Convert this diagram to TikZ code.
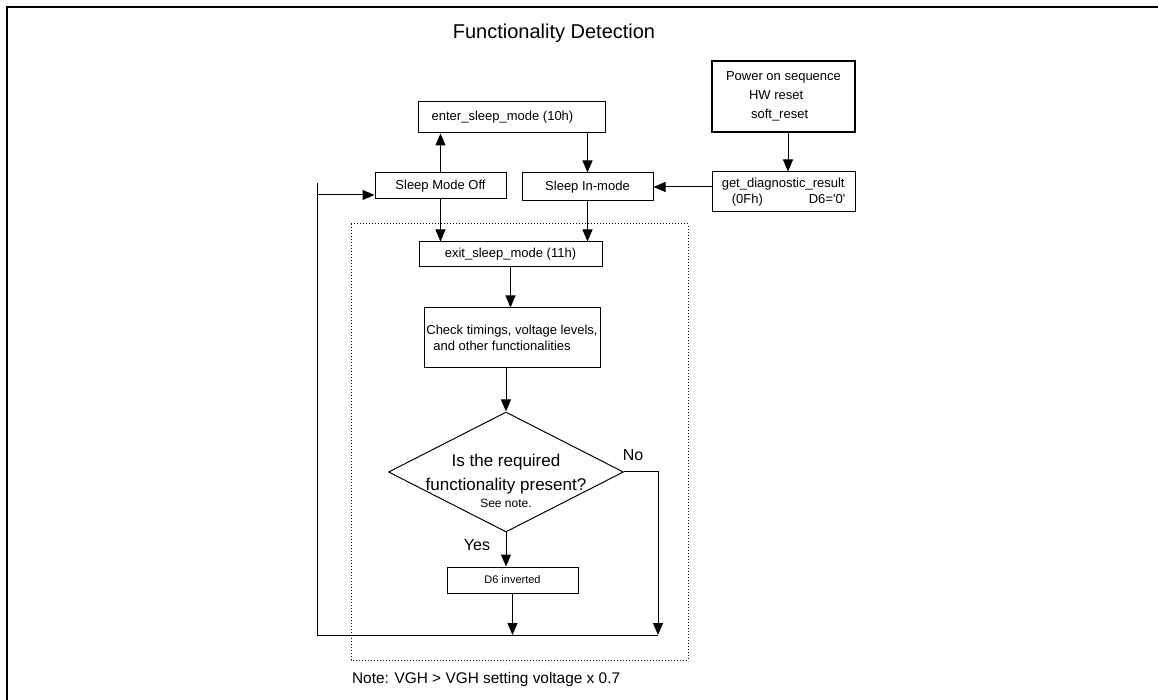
\documentclass[tikz,border=0pt]{standalone}
\usepackage{fontspec}
\setmainfont{Liberation Sans}
\usetikzlibrary{arrows.meta,shapes.geometric}

\begin{document}
\begin{tikzpicture}[x=0.5pt, y=-0.5pt,
	box/.style={draw, line width=0.5pt, inner sep=1pt, font=\fontsize{6.5}{8}\selectfont},
	flow/.style={-{Triangle[width=5pt,length=6pt]}, line width=0.5pt},
	lbl/.style={font=\fontsize{8}{9}\selectfont}]
	\useasboundingbox (0,0) rectangle (1158,700);
	\draw[line width=1.4pt] (7,705) -- (7,7) -- (1165,7);
	\node[font=\fontsize{10}{12}\selectfont] (title) at (554,33) {Functionality Detection};
	\node[box, line width=1.3pt, minimum width=71.5pt, minimum height=35.5pt, align=left, font=\fontsize{6.5}{9.5}\selectfont] (power) at (783.5,96.5) {Power on sequence\\\hspace*{11.5pt}HW reset\\\hspace*{12.5pt}soft\_reset};
	\node[box, minimum width=71.5pt, minimum height=20pt, align=left] (diag) at (783.5,192) {get\_diagnostic\_result\\\hspace*{5pt}(0Fh)\hspace{23pt}D6=\textquotesingle0\textquotesingle};
	\node[box, minimum width=93.5pt, minimum height=15.5pt] (enter) at (511.5,117.5) {enter\_sleep\_mode (10h)\hspace*{9pt}};
	\node[box, minimum width=65.5pt, minimum height=13pt] (smoff) at (440.5,186) {Sleep Mode Off};
	\node[box, minimum width=65.5pt, minimum height=14pt] (smin) at (587.5,187) {Sleep In-mode};
	\node[box, minimum width=91.5pt, minimum height=12.5pt] (exit) at (510.5,254.5) {exit\_sleep\_mode (11h)};
	\node[box, minimum width=88pt, minimum height=30pt, align=left] (check) at (512,338) {Check timings, voltage levels,\\\hspace*{3.5pt}and other functionalities};
	\node[draw, diamond, minimum width=117.5pt, minimum height=60pt, inner sep=0pt, line width=0.5pt] (dec) at (506,472) {};
	\node[align=center, font=\fontsize{8.5}{12}\selectfont] (dectext) at (506,481) {Is the required\\functionality present?\\[-3.5pt]{\fontsize{6}{7}\selectfont See note.}};
	\node[box, minimum width=65.5pt, minimum height=13pt, font=\fontsize{5.5}{7}\selectfont] (d6) at (512.5,580) {D6 inverted};
	\node[lbl] (yes) at (477,545) {Yes};
	\node[lbl] (no) at (633,455) {No};
	\node[anchor=base west, font=\fontsize{7.7}{9}\selectfont] (note) at (345,683) {Note: VGH > VGH setting voltage x 0.7};
	\coordinate (loopR) at (658,635);
	\coordinate (loopL) at (317,635);
	\coordinate (loopT) at (317,183);
	\coordinate (loopin) at (317,195);
	\draw[densely dotted, line width=0.5pt] (351,224) rectangle (688,660);
	\draw[flow] ([xshift=2.25pt]power.south) -- ([xshift=2.25pt]diag.north);
	\draw[flow] (diag.west |- smin.east) -- (smin.east);
	\draw[flow] (smoff.north) -- (smoff.north |- enter.south);
	\draw[flow] (enter.south -| smin.north) -- (smin.north);
	\draw[flow] (smoff.south) -- (smoff.south |- exit.north);
	\draw[flow] (smin.south) -- (smin.south |- exit.north);
	\draw[flow] (exit.south) -- (exit.south |- check.north);
	\draw[flow] (check.south -| dec.north) -- (dec.north);
	\draw[flow] (dec.south) -- (dec.south |- d6.north);
	\draw[flow] (d6.south) -- (d6.south |- loopR);
	\draw[flow] (dec.east) -| (loopR);
	\draw[line width=0.5pt] (loopR) -- (loopL) -- (loopT);
	\draw[flow] (loopin) -- (loopin -| smoff.west);
\end{tikzpicture}
\end{document}
